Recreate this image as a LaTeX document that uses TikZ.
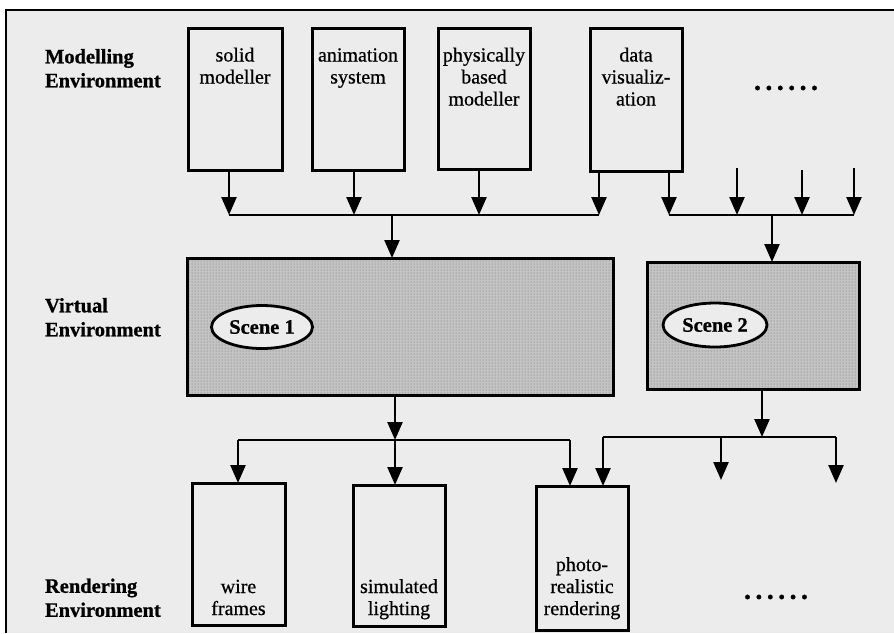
\documentclass[tikz,border=0pt]{standalone}
\usepackage{fontspec}
\setmainfont{Liberation Serif}[FakeBold=0.6, BoldFeatures={FakeBold=0.9}]
\usetikzlibrary{arrows.meta,patterns,shapes.geometric}
\definecolor{paper}{RGB}{236,236,236}
\definecolor{shade}{RGB}{196,196,196}
\begin{document}
\begin{tikzpicture}[x=1pt,y=-1pt,
  every node/.style={inner sep=0pt, outer sep=0pt},
  unit/.style={draw, line width=3pt, minimum width=92pt, minimum height=142pt},
  envbox/.style={draw, line width=3pt, preaction={fill=shade}, pattern=dots, pattern color=black!60},
  scene/.style={ellipse, draw, line width=2.8pt, fill=paper, font=\bfseries\fontsize{20.5}{24}\selectfont},
  boxtext/.style={align=center, font=\fontsize{20}{22}\selectfont},
  envlabel/.style={align=left, anchor=north west, font=\bfseries\fontsize{20.5}{24}\selectfont},
  flow/.style={line width=2.4pt, -{Triangle[width=15pt,length=18pt]}},
  bus/.style={line width=2.6pt},
  more/.style={font=\bfseries\fontsize{28}{30}\selectfont}
]
\useasboundingbox (0,0) rectangle (894,633);
% paper and frame
\fill[white] (0,0) rectangle (894,633);
\fill[paper] (6,10) rectangle (894,633);
\draw[line width=1.6pt] (6,633) -- (6,10) -- (894,10);

% row labels
\node[envlabel] (lm) at (45,46.5) {\strut Modelling\\\strut Environment};
\node[envlabel] (lv) at (45,295.5) {\strut Virtual\\\strut Environment};
\node[envlabel] (lr) at (45,576) {\strut Rendering\\\strut Environment};

% modelling tools
\node[unit, minimum width=94pt] (m1) at (235,99) {};
\node[unit] (m2) at (358,99) {};
\node[unit, minimum height=141pt] (m3) at (484,98.5) {};
\node[unit, minimum height=143pt] (m4) at (636,99.5) {};
\coordinate (toptext) at (0,46.1);
\node[boxtext, anchor=north] (t1) at (m1.north |- toptext) {\strut solid\\\strut modeller};
\node[boxtext, anchor=north] (t2) at (m2.north |- toptext) {\strut animation\\\strut system};
\node[boxtext, anchor=north] (t3) at (m3.north |- toptext) {\strut physically\\\strut based\\\strut modeller};
\node[boxtext, anchor=north] (t4) at (m4.north |- toptext) {\strut data\\\strut visualiz-\\\strut ation};
\node[more] (dm) at (786,88) {\makebox[64pt]{.\hfill.\hfill.\hfill.\hfill.\hfill.}};

% virtual environments
\node[envbox, minimum width=426pt, minimum height=137pt] (v1) at (400,326.5) {};
\node[envbox, minimum width=212pt, minimum height=127pt] (v2) at (753,325.5) {};
\node[scene, minimum width=101pt, minimum height=43pt] (s1) at (262,327) {Scene 1};
\node[scene, minimum width=104pt, minimum height=44pt] (s2) at (715,325) {Scene 2};

% renderers
\node[unit, minimum width=93pt] (r1) at (238.5,554) {};
\node[unit, minimum height=141pt] (r2) at (399,555.5) {};
\node[unit, minimum height=144pt] (r3) at (582,558) {};
\coordinate (bottext) at (0,621.6);
\node[boxtext, anchor=south] (t5) at (r1.south |- bottext) {\strut wire\\\strut frames};
\node[boxtext, anchor=south] (t6) at (r2.south |- bottext) {\strut simulated\\\strut lighting};
\node[boxtext, anchor=south] (t7) at (r3.south |- bottext) {\strut photo-\\\strut realistic\\\strut rendering};
\node[more] (dr) at (776,597) {\makebox[64pt]{.\hfill.\hfill.\hfill.\hfill.\hfill.}};

% bus from modelling tools to scene 1
\coordinate (j1) at (229,215);
\coordinate (j2) at (354,215);
\coordinate (j3) at (479,215);
\coordinate (j4) at (599,215);
\coordinate (o1) at (392,215);
\draw[bus] (j1) -- (j4);
\foreach \m/\j in {m1/j1,m2/j2,m3/j3,m4/j4}
  \draw[flow] (\m.south -| \j) -- (\j);
\draw[flow] (o1) -- (o1 |- v1.north);

% bus from further tools to scene 2
\coordinate (k1) at (669,215);
\coordinate (k2) at (737,215);
\coordinate (k3) at (802,215);
\coordinate (k4) at (854,215);
\coordinate (f2) at (737,168);
\coordinate (f3) at (802,170);
\coordinate (f4) at (854,168);
\coordinate (o2) at (772,215);
\draw[bus] (k1) -- (k4);
\draw[flow] (m4.south -| k1) -- (k1);
\draw[flow] (f2) -- (k2);
\draw[flow] (f3) -- (k3);
\draw[flow] (f4) -- (k4);
\draw[flow] (o2) -- (o2 |- v2.north);

% scene 1 to renderers
\coordinate (p0) at (395,440);
\coordinate (p1) at (238,440);
\coordinate (p3) at (570,440);
\draw[bus] (p1) -- (p3);
\draw[flow] (v1.south -| p0) -- (p0);
\draw[flow] (p1) -- (p1 |- r1.north);
\draw[flow] (p0) -- (p0 |- r2.north);
\draw[flow] (p3) -- (p3 |- r3.north);

% scene 2 to renderers
\coordinate (q0) at (762,437);
\coordinate (q1) at (603,437);
\coordinate (q2) at (721,437);
\coordinate (q3) at (836,437);
\coordinate (e2) at (721,480);
\coordinate (e3) at (836,483);
\draw[bus] (q1) -- (q3);
\draw[flow] (v2.south -| q0) -- (q0);
\draw[flow] (q1) -- (q1 |- r3.north);
\draw[flow] (q2) -- (e2);
\draw[flow] (q3) -- (e3);
\end{tikzpicture}
\end{document}
